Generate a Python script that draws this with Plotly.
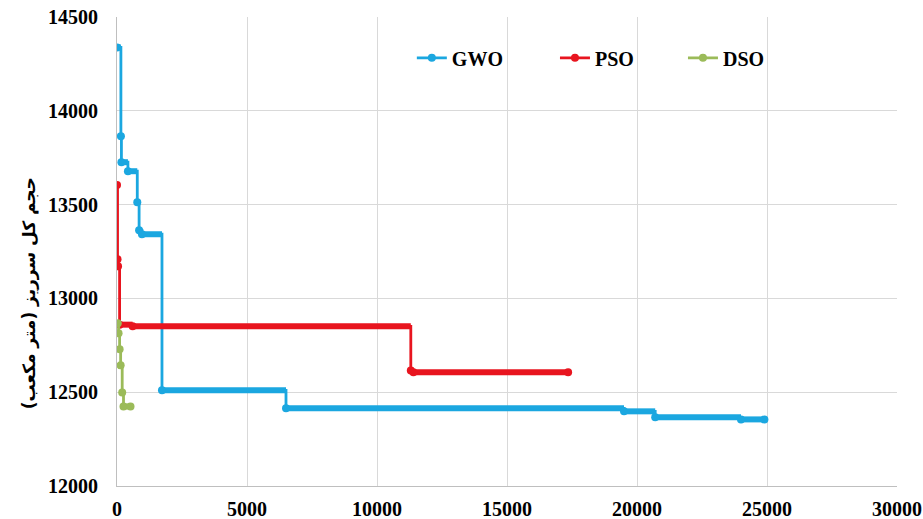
import plotly.graph_objects as go

# Convergence history: iteration at which the best objective changed, and its value
gwo_iter = [0, 150, 170, 420, 780, 850, 960, 1730, 6500, 19500, 20700, 24000, 24900]
gwo_val = [14338, 13865, 13726, 13678, 13513, 13363, 13342, 12510, 12414, 12398, 12366, 12355, 12355]

pso_iter = [0, 20, 40, 100, 600, 11300, 11400, 17350]
pso_val = [13604, 13209, 13171, 12860, 12851, 12616, 12606, 12606]

dso_iter = [30, 60, 100, 140, 200, 250, 520]
dso_val = [12867, 12814, 12729, 12643, 12499, 12424, 12424]

series = [
    ("GWO", gwo_iter, gwo_val, "#1ba7e0", "legend", 0.378),
    ("PSO", pso_iter, pso_val, "#e8151f", "legend2", 0.5615),
    ("DSO", dso_iter, dso_val, "#9bbb59", "legend3", 0.7256),
]

x_ticks = [0, 5000, 10000, 15000, 20000, 25000, 30000]
y_ticks = [12000, 12500, 13000, 13500, 14000, 14500]


def flat_runs(xs, ys):
    """Horizontal runs between successive improvements (dense marker bands)."""
    sx, sy = [], []
    for i in range(len(xs) - 1):
        sx += [xs[i], xs[i + 1], None]
        sy += [ys[i], ys[i], None]
    return sx, sy


legend_font = dict(family="Liberation Serif", size=20, color="#000000", weight="bold")

fig = go.Figure()
legends = {}
for name, xs, ys, color, leg, lx in series:
    fx, fy = flat_runs(xs, ys)
    fig.add_trace(go.Scatter(
        x=fx, y=fy, mode="lines", line=dict(color=color, width=6),
        legendgroup=name, showlegend=False, hoverinfo="skip",
    ))
    fig.add_trace(go.Scatter(
        x=xs, y=ys, name=name, mode="lines+markers", legendgroup=name,
        legend=leg, line=dict(color=color, width=2.8, shape="hv"),
        marker=dict(color=color, size=8),
    ))
    legends[leg] = dict(
        orientation="h", x=lx, xanchor="left", y=0.913, yanchor="middle",
        font=legend_font, bgcolor="rgba(0,0,0,0)", itemwidth=30,
    )

tick_font = dict(family="Liberation Serif", size=20, color="#000000", weight="bold")

fig.update_layout(
    width=923, height=519,
    margin=dict(l=117, r=26, t=17, b=33),
    paper_bgcolor="white", plot_bgcolor="white",
    showlegend=True,
    xaxis=dict(
        range=[0, 30000], tickvals=x_ticks, ticktext=[str(v) for v in x_ticks],
        showgrid=True, gridcolor="#d9d9d9", gridwidth=1,
        showline=True, linecolor="#bfbfbf", linewidth=1,
        ticks="", tickfont=tick_font, ticklabelstandoff=5, zeroline=False,
        automargin=False,
    ),
    yaxis=dict(
        range=[12000, 14500], tickvals=y_ticks, ticktext=[str(v) for v in y_ticks],
        showgrid=True, gridcolor="#d9d9d9", gridwidth=1,
        showline=True, linecolor="#bfbfbf", linewidth=1,
        ticks="", tickfont=tick_font, ticklabelstandoff=14, zeroline=False,
        automargin=False,
    ),
    annotations=[dict(
        text="حجم کل سرریز (متر مکعب)", textangle=-90,
        xref="paper", yref="paper", x=-0.112, y=0.41,
        xanchor="center", yanchor="middle", showarrow=False,
        font=dict(family="DejaVu Sans", size=17, color="#000000", weight="bold"),
    )],
    **legends,
)

fig.write_html("out.html")
